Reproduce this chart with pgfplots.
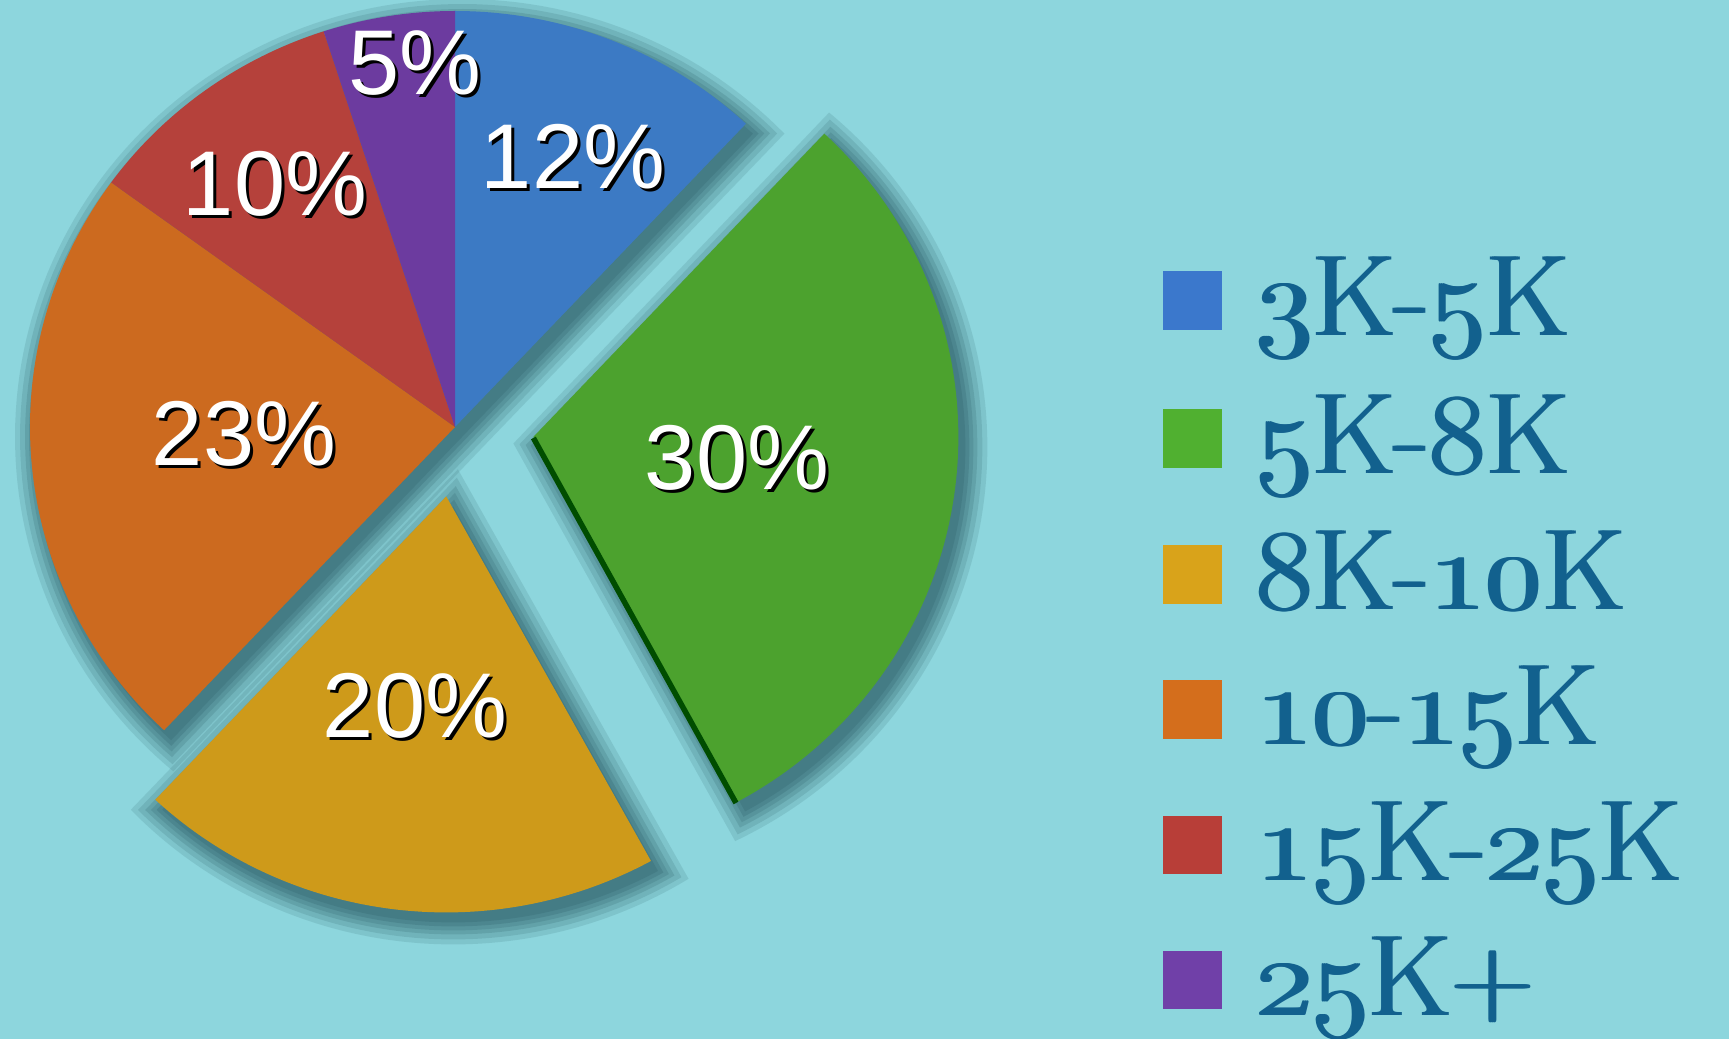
\documentclass[border=0pt]{standalone}
\usepackage{fix-cm}
\usepackage{fontspec}
\usepackage{pgfplots}
\pgfplotsset{compat=1.18}
\usepackage{pgfplotstable}
\newfontfamily\labfont{Liberation Sans}
\newcommand\osn[1]{{\usefont{OML}{cmm}{m}{it}#1}}

\definecolor{bgc}{HTML}{8DD6DD}
\definecolor{shc}{HTML}{2E6069}
\definecolor{cblue}{HTML}{3C7AC4}
\definecolor{cgreen}{HTML}{4CA22E}
\definecolor{cyellow}{HTML}{CE9A1A}
\definecolor{corange}{HTML}{CC6A1F}
\definecolor{cred}{HTML}{B5413B}
\definecolor{cpurple}{HTML}{6C3B9F}
\definecolor{lblue}{HTML}{3B78CC}
\definecolor{lgreen}{HTML}{50B030}
\definecolor{lyellow}{HTML}{D9A31A}
\definecolor{lorange}{HTML}{D46E1C}
\definecolor{lred}{HTML}{B83E38}
\definecolor{lpurple}{HTML}{7040A8}
\definecolor{ltext}{HTML}{12618E}

% data: share of each band (percent), clockwise from the top
\pgfplotstableread{
label value
3K-5K 12
5K-8K 30
8K-10K 20
10-15K 23
15K-25K 10
25K+ 5
}\piedata

\newcommand\CX{455}\newcommand\CY{427}\newcommand\RX{425}\newcommand\RY{416}

% slice: start angle, end angle, explode offset, colour
\newcommand\pieslice[4]{%
  \pgfmathsetmacro\pmid{(#1+#2)/2}%
  \pgfmathsetmacro\pcx{\CX+#3*cos(\pmid)}%
  \pgfmathsetmacro\pcy{\CY-#3*sin(\pmid)}%
  \edef\temp{\noexpand\addplot[fill=#4, draw=none, domain=#2:#1, samples=120, variable=\noexpand\t]
    ({\pcx+\RX*cos(\noexpand\t)},{\pcy-\RY*sin(\noexpand\t)}) -- (axis cs:\pcx,\pcy) -- cycle;}%
  \temp}

% shadow: start, end, offset, grow, opacity, dx, dy
\newcommand\pieshadow[7]{%
  \pgfmathsetmacro\pmid{(#1+#2)/2}%
  \pgfmathsetmacro\phalf{(#1-#2)/2}%
  \pgfmathsetmacro\pback{min(#4/sin(\phalf),3*#4)}%
  \pgfmathsetmacro\pox{\CX+#3*cos(\pmid)+#6}%
  \pgfmathsetmacro\poy{\CY-#3*sin(\pmid)+#7}%
  \pgfmathsetmacro\pvx{\pox-\pback*cos(\pmid)}%
  \pgfmathsetmacro\pvy{\poy+\pback*sin(\pmid)}%
  \pgfmathsetmacro\pdel{#4/\RX*57.3}%
  \pgfmathsetmacro\pa{#2-\pdel}%
  \pgfmathsetmacro\pb{#1+\pdel}%
  \pgfmathsetmacro\prx{\RX+#4}%
  \pgfmathsetmacro\pry{\RY+#4}%
  \edef\temp{\noexpand\addplot[fill=shc, fill opacity=#5, draw=none, domain=\pa:\pb, samples=120, variable=\noexpand\t]
    ({\pox+\prx*cos(\noexpand\t)},{\poy-\pry*sin(\noexpand\t)}) -- (axis cs:\pvx,\pvy) -- cycle;}%
  \temp}

\newcommand\shadowset[3]{%
  \pieshadow{#1}{#2}{#3}{22}{0.15}{7}{10}
  \pieshadow{#1}{#2}{#3}{17}{0.17}{7}{10}
  \pieshadow{#1}{#2}{#3}{12}{0.2}{7}{10}
  \pieshadow{#1}{#2}{#3}{8}{0.2}{7}{10}
  \pieshadow{#1}{#2}{#3}{4}{0.25}{7}{10}
  \pieshadow{#1}{#2}{#3}{0}{0.25}{7}{10}}

\newcommand\plabel[5]{%
  \node[font=\labfont\fontsize{18.4}{20}\selectfont, text=black] at (axis cs:#3,#4) {#5\%};
  \node[font=\labfont\fontsize{18.4}{20}\selectfont, text=white] at (axis cs:#1,#2) {#5\%};}

% legend row: baseline, top, bottom of square, colour, text (set three times for a heavier face)
\newcommand\legrow[5]{%
  \fill[#4] (axis cs:1163,#2) rectangle (axis cs:1222,#3);
  \node[anchor=base west, inner sep=0pt, font=\fontsize{23}{26}\selectfont, text=ltext] at (axis cs:1253,#1) {#5};
  \node[anchor=base west, inner sep=0pt, font=\fontsize{23}{26}\selectfont, text=ltext] at (axis cs:1255,#1) {#5};
  \node[anchor=base west, inner sep=0pt, font=\fontsize{23}{26}\selectfont, text=ltext] at (axis cs:1257,#1) {#5};}

\begin{document}
\begin{tikzpicture}
\fill[bgc] (0,0) rectangle (345.8pt,207.8pt);
\begin{axis}[
  width=345.8pt, height=207.8pt, scale only axis,
  xmin=0, xmax=1729, ymin=0, ymax=1039, y dir=reverse,
  hide axis, clip=true,
]
% angles from the data: 90, 46.8, -61.2, -133.2, -216, -252, -270
\shadowset{226.8}{46.8}{0}
\shadowset{46.8}{-61.2}{79}
\shadowset{-61.2}{-133.2}{70}
% slices
\pieslice{90}{46.8}{0}{cblue}
\pieslice{46.8}{-61.2}{79}{cgreen}
\pieslice{-61.2}{-133.2}{70}{cyellow}
\pieslice{-133.2}{-216}{0}{corange}
\pieslice{-216}{-252}{0}{cred}
\pieslice{-252}{-270}{0}{cpurple}
% dark edges
\addplot[draw=black!45!green!55!black, line width=1.1pt] coordinates {(533.4,438) (736,803)};
% labels
\plabel{573}{157}{576}{160}{12}
\plabel{415}{63}{418}{66}{5}
\plabel{275}{184}{278}{187}{10}
\plabel{244}{434}{247}{437}{23}
\plabel{737}{458}{740}{461}{30}
\plabel{415}{706}{418}{709}{20}
% legend
\legrow{336}{271}{330}{lblue}{\osn{3}K-\osn{5}K}
\legrow{474}{409}{468}{lgreen}{\osn{5}K-\osn{8}K}
\legrow{610}{545}{604}{lyellow}{\osn{8}K-\osn{10}K}
\legrow{745}{680}{739}{lorange}{\osn{10}-\osn{15}K}
\legrow{881}{816}{874}{lred}{\osn{15}K-\osn{25}K}
\legrow{1016}{951}{1009}{lpurple}{\osn{25}K+}
\end{axis}
\pgfresetboundingbox
\path[use as bounding box] (0,0) rectangle (345.8pt,207.8pt);
\end{tikzpicture}
\end{document}
